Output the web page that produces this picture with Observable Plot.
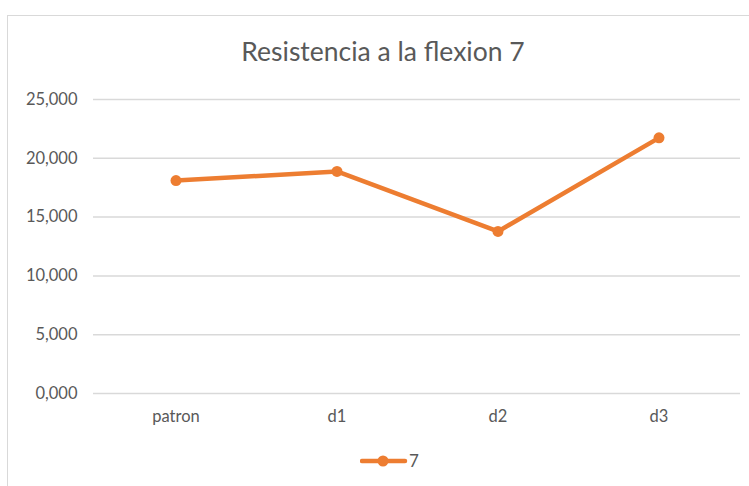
<!DOCTYPE html>
<html>
<head>
<meta charset="utf-8">
<script src="https://cdn.jsdelivr.net/npm/d3@7"></script>
<script src="https://cdn.jsdelivr.net/npm/@observablehq/plot@0.6"></script>
<style>
  html, body { margin: 0; padding: 0; background: #fff; }
  #wrap { position: relative; width: 749px; height: 486px; overflow: hidden; font-family: Lato, "Open Sans", sans-serif; color: #595959; }
  #border { position: absolute; left: 7px; top: 15px; width: 800px; height: 600px; border: 1px solid #d9d9d9; box-sizing: border-box; }
  #title { position: absolute; left: 0; width: 766px; top: 35px; text-align: center; font-size: 26.5px; color: #595959; }
  #chart { position: absolute; left: 0; top: 0; }
  #legend { position: absolute; left: 360px; top: 450px; display: flex; align-items: center; font-size: 17px; color: #595959; }
</style>
</head>
<body>
<div id="wrap">
  <div id="border"></div>
  <div id="chart"></div>
  <div id="title">Resistencia a la flexion 7</div>
  <div id="legend"></div>
</div>
<script>
const categories = ["patron", "d1", "d2", "d3"];
const values = [18.11, 18.88, 13.78, 21.74];
const yTicks = [0, 5, 10, 15, 20, 25];
const seriesName = "7";

const data = categories.map((c, i) => ({cat: c, value: values[i]}));
const fmt = v => d3.format(".3f")(v).replace(".", ",");
const color = "#ED7D31";

const chart = Plot.plot({
  width: 749,
  height: 486,
  marginLeft: 93,
  marginRight: 9,
  marginTop: 99,
  marginBottom: 93,
  style: {fontFamily: "Lato, 'Open Sans', sans-serif", fontSize: "16.5px", color: "#595959", background: "transparent"},
  x: {type: "band", domain: categories, padding: 0, label: null},
  y: {domain: [0, 25], label: null},
  marks: [
    Plot.ruleY(yTicks, {stroke: "#d9d9d9", strokeWidth: 1.5}),
    Plot.axisY({ticks: yTicks, tickFormat: fmt, tickSize: 0, tickPadding: 16, label: null, fill: "#595959"}),
    Plot.axisX({tickSize: 0, tickPadding: 17, label: null, fill: "#595959"}),
    Plot.line(data, {x: "cat", y: "value", stroke: color, strokeWidth: 4.5, strokeLinecap: "round", strokeLinejoin: "round"}),
    Plot.dot(data, {x: "cat", y: "value", fill: color, r: 5.5})
  ]
});
document.getElementById("chart").appendChild(chart);

document.getElementById("legend").innerHTML =
  `<svg width="48" height="20"><line x1="2" y1="10" x2="45" y2="10" stroke="${color}" stroke-width="4.5" stroke-linecap="round"/><circle cx="23" cy="10" r="5.5" fill="${color}"/></svg><span style="margin-left:1px">${seriesName}</span>`;
</script>
</body>
</html>
